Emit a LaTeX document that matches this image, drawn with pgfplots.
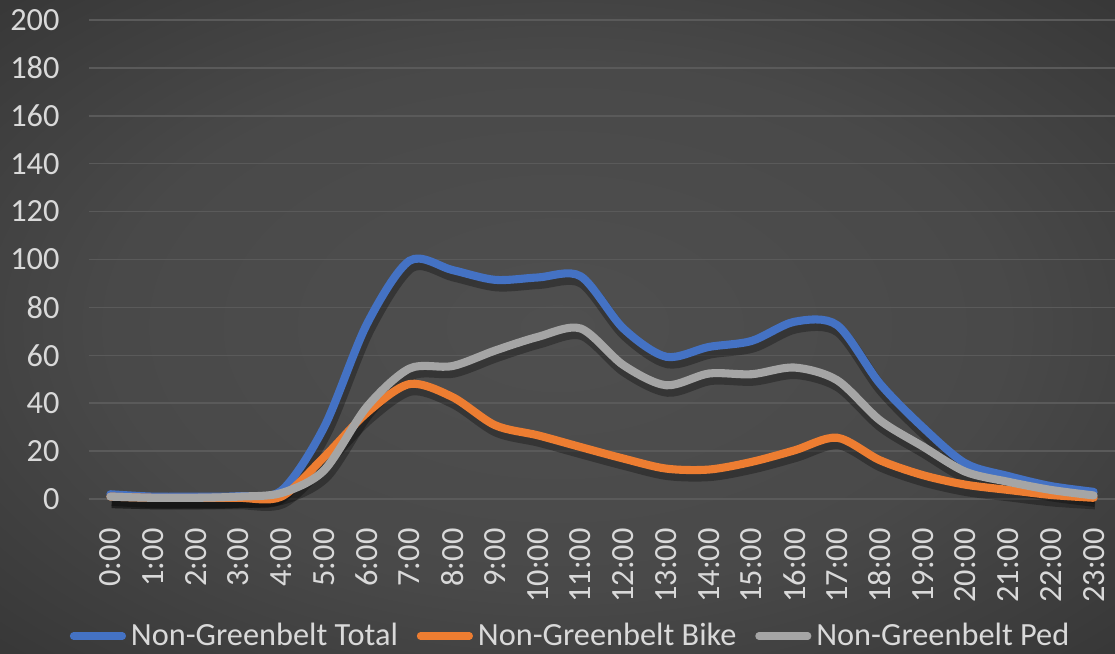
\documentclass[border=0pt]{standalone}
\usepackage{fontspec}
\setmainfont{Carlito}
\usepackage{pgfplots}
\usepackage{pgfplotstable}
\pgfplotsset{compat=1.18}

\definecolor{sTotal}{HTML}{4472C4}
\definecolor{sBike}{HTML}{ED7D31}
\definecolor{sPed}{HTML}{A5A5A5}
\definecolor{txt}{HTML}{D9D9D9}
\definecolor{gridc}{HTML}{5A5A5A}
\definecolor{bgin}{HTML}{4F4F4F}
\definecolor{bgout}{HTML}{272727}

\pgfdeclareradialshading{bgshade}{\pgfpoint{0bp}{0bp}}{%
  color(0bp)=(bgin); color(20bp)=(bgin!85!bgout); color(50bp)=(bgout)}

% hour, total, bike, ped
\pgfplotstableread{
h  total bike ped
0  2     1    1
1  1     0.5  0.5
2  1     0.5  0.5
3  1.2   0.5  1
4  3.5   1    2.5
5  30    17.5 12
6  73    36   38.5
7  99.5  48   54.5
8  95.6  42.6 55.5
9  91.5  30.8 62
10 92.5  26.6 67.7
11 93    21.7 71.2
12 71.2  16.9 55.9
13 59.4  12.7 47.5
14 63.5  12.3 52.4
15 66    15.5 52.1
16 74    20.3 54.9
17 72.6  25.6 49.6
18 48.2  16.2 32.9
19 30    10   22
20 14.9  6    11.4
21 9.6   3.8  7.2
22 5.4   1.7  3.8
23 3     0.5  1.5
}\hourly

\begin{document}
\begin{tikzpicture}
  \shade[shading=bgshade] (0,0) rectangle (16cm,9.371cm);
  \begin{axis}[
      at={(1.277cm,2.210cm)}, anchor=south west,
      scale only axis,
      width=14.723cm, height=6.874cm,
      xmin=-0.5, xmax=23.5,
      ymin=0, ymax=200,
      ytick={0,20,...,200},
      xtick={0,...,23},
      xticklabels={0:00,1:00,2:00,3:00,4:00,5:00,6:00,7:00,8:00,9:00,10:00,11:00,
        12:00,13:00,14:00,15:00,16:00,17:00,18:00,19:00,20:00,21:00,22:00,23:00},
      axis line style={draw=none},
      major tick length=0pt,
      ymajorgrids,
      grid style={gridc, line width=0.6pt},
      tick label style={font=\fontsize{13.2}{15}\selectfont, text=txt},
      /pgf/number format/assume math mode=true,
      yticklabel style={xshift=-0.3cm},
      xticklabel style={rotate=90, anchor=east, xshift=-0.3cm},
      legend columns=3,
      legend style={at={(0.4708,-0.286)}, anchor=center, draw=none, fill=none,
        text=txt, font=\fontsize{13.2}{15}\selectfont,
        /tikz/every even column/.append style={column sep=0.2cm},
        inner sep=0pt, row sep=0pt},
      legend cell align=left,
      legend image code/.code={\draw[#1, line width=3pt, line cap=round] (0cm,0cm) -- (0.7cm,0cm);},
      clip=false,
    ]
    % soft shadows under the lines
    \addplot[forget plot, black, opacity=0.3, line width=5pt, smooth, tension=0.5,
      transform canvas={yshift=-2.2pt, xshift=0.6pt}] table[x=h, y=ped] {\hourly};
    \addplot[forget plot, black, opacity=0.3, line width=5pt, smooth, tension=0.5,
      transform canvas={yshift=-2.2pt, xshift=0.6pt}] table[x=h, y=bike] {\hourly};
    \addplot[forget plot, black, opacity=0.3, line width=5pt, smooth, tension=0.5,
      transform canvas={yshift=-2.2pt, xshift=0.6pt}] table[x=h, y=total] {\hourly};

    \addplot[sTotal, line width=3.3pt, line cap=round, smooth, tension=0.5] table[x=h, y=total] {\hourly};
    \addlegendentry{Non-Greenbelt Total}
    \addplot[sBike, line width=3.3pt, line cap=round, smooth, tension=0.5] table[x=h, y=bike] {\hourly};
    \addlegendentry{Non-Greenbelt Bike}
    \addplot[sPed, line width=3.3pt, line cap=round, smooth, tension=0.5] table[x=h, y=ped] {\hourly};
    \addlegendentry{Non-Greenbelt Ped}
  \end{axis}
  \pgfresetboundingbox
  \path[use as bounding box] (0,0) rectangle (16cm,9.371cm);
\end{tikzpicture}
\end{document}
